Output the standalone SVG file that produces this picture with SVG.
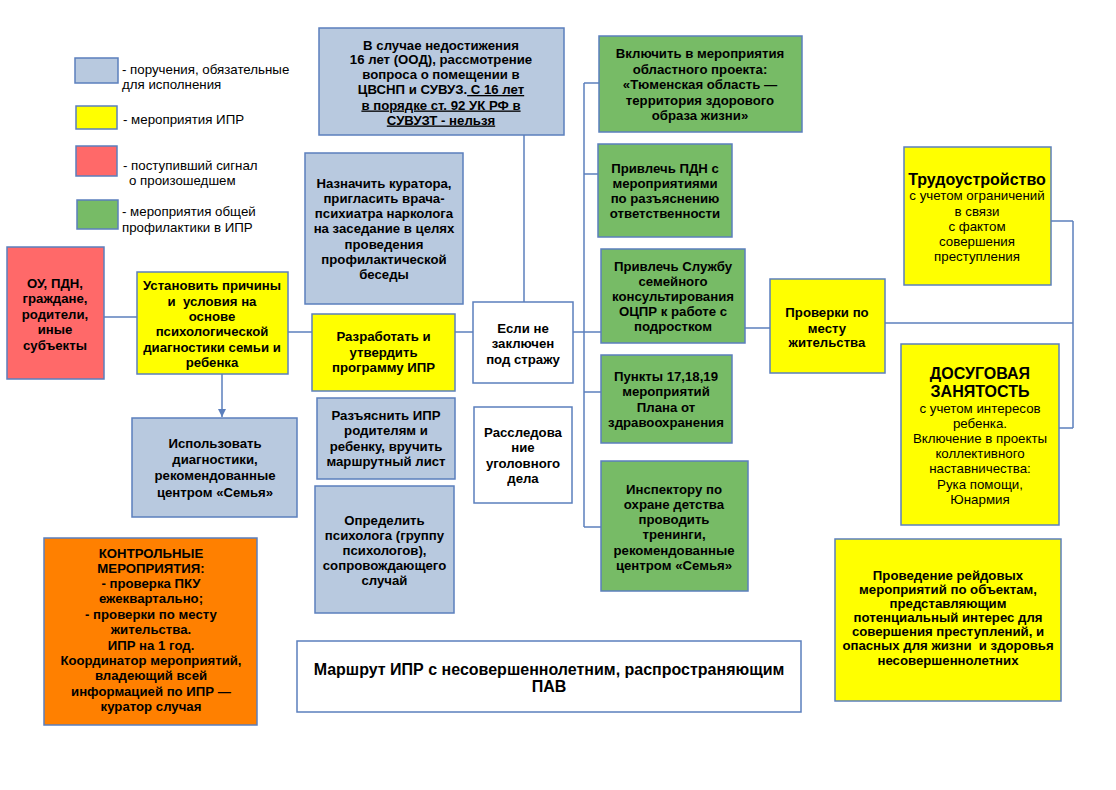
<svg xmlns="http://www.w3.org/2000/svg" width="1116" height="790" viewBox="0 0 1116 790">
<defs>
<style>
.box{stroke:#5b7fbd;stroke-width:1.5}
.blue{fill:#b8c9df}
.yel{fill:#ffff00}
.red{fill:#ff6969}
.grn{fill:#77bb66}
.org{fill:#ff8000}
.wht{fill:#ffffff}
.ln{stroke:#5b7fbd;stroke-width:1.5;fill:none}
text{font-family:"Liberation Sans",Arial,sans-serif;fill:#000}
.b{font-size:13.2px;font-weight:bold;text-anchor:middle}
.r{font-size:13.3px;text-anchor:middle}
.lg{font-size:13.3px}
.big{font-size:16px;font-weight:bold;text-anchor:middle}
.ttl{font-size:16px;font-weight:bold;text-anchor:middle}
</style>
<marker id="arr" viewBox="0 0 10 10" refX="10" refY="5" markerWidth="8" markerHeight="8" markerUnits="userSpaceOnUse" orient="auto">
<path d="M0,0 L10,5 L0,10 z" fill="#5b7fbd"/>
</marker>
</defs>
<rect width="1116" height="790" fill="#ffffff"/>

<g id="legend">
<rect class="box blue" x="75" y="58" width="43" height="25"/>
<text class="lg" x="122" y="73.5">- поручения, обязательные</text>
<text class="lg" x="122" y="88.5">для исполнения</text>
<rect class="box yel" x="76" y="106" width="41" height="23"/>
<text class="lg" x="123" y="123.5">- мероприятия ИПР</text>
<rect class="box red" x="76" y="146" width="41" height="30"/>
<text class="lg" x="123" y="170">- поступивший сигнал</text>
<text class="lg" x="129" y="184.5">о произошедшем</text>
<rect class="box grn" x="77" y="200" width="41" height="29"/>
<text class="lg" x="122" y="215.5">- мероприятия общей</text>
<text class="lg" x="122" y="231.5">профилактики в ИПР</text>
</g>

<g id="connectors">
<line class="ln" x1="104" y1="317" x2="137" y2="317"/>
<line class="ln" x1="288" y1="332" x2="312" y2="332"/>
<line class="ln" x1="222" y1="374" x2="222" y2="417" marker-end="url(#arr)"/>
<line class="ln" x1="455" y1="332" x2="473" y2="332"/>
<line class="ln" x1="524" y1="135" x2="524" y2="302"/>
<line class="ln" x1="573" y1="332" x2="584" y2="332"/>
<line class="ln" x1="584" y1="83" x2="584" y2="527"/>
<line class="ln" x1="584" y1="83" x2="599" y2="83"/>
<line class="ln" x1="584" y1="174" x2="598" y2="174"/>
<line class="ln" x1="584" y1="332" x2="601" y2="332"/>
<line class="ln" x1="584" y1="392" x2="601" y2="392"/>
<line class="ln" x1="584" y1="527" x2="601" y2="527"/>
<line class="ln" x1="745" y1="328" x2="770" y2="328"/>
<line class="ln" x1="885" y1="323" x2="1073" y2="323"/>
<line class="ln" x1="1073" y1="221" x2="1073" y2="428"/>
<line class="ln" x1="1051" y1="221" x2="1073" y2="221"/>
<line class="ln" x1="1059" y1="428" x2="1073" y2="428"/>
</g>

<g id="n-signal">
<rect class="box red" x="7" y="247" width="97" height="132"/>
<text class="b" x="55" y="287.5">ОУ, ПДН,</text>
<text class="b" x="55" y="303">граждане,</text>
<text class="b" x="55" y="318.5">родители,</text>
<text class="b" x="55" y="334">иные</text>
<text class="b" x="55" y="349.5">субъекты</text>
</g>

<g id="n-reasons">
<rect class="box yel" x="137" y="272" width="151" height="102"/>
<text class="b" x="212" y="290">Установить причины</text>
<text class="b" x="212" y="306" xml:space="preserve">и  условия на</text>
<text class="b" x="212" y="321">основе</text>
<text class="b" x="212" y="336">психологической</text>
<text class="b" x="212" y="351.5">диагностики семьи и</text>
<text class="b" x="212" y="367">ребенка</text>
</g>

<g id="n-diag">
<rect class="box blue" x="132" y="418" width="165" height="99"/>
<text class="b" x="215" y="447.5">Использовать</text>
<text class="b" x="215" y="463.5">диагностики,</text>
<text class="b" x="215" y="480">рекомендованные</text>
<text class="b" x="215" y="496.5">центром «Семья»</text>
</g>

<g id="n-under16">
<rect class="box blue" x="319" y="28" width="245" height="107"/>
<text class="b" x="441" y="49.5">В случае недостижения</text>
<text class="b" x="441" y="64">16 лет (ООД), рассмотрение</text>
<text class="b" x="441" y="79">вопроса о помещении в</text>
<text class="b" x="441" y="94">ЦВСНП и СУВУЗ.<tspan text-decoration="underline"> С 16 лет </tspan></text>
<text class="b" x="441" y="109.5" text-decoration="underline">в порядке ст. 92 УК РФ в</text>
<text class="b" x="441" y="124.5" text-decoration="underline">СУВУЗТ - нельзя</text>
</g>

<g id="n-curator">
<rect class="box blue" x="305" y="153" width="158" height="151"/>
<text class="b" x="384" y="187.5">Назначить куратора,</text>
<text class="b" x="384" y="202.8">пригласить врача-</text>
<text class="b" x="384" y="218.1">психиатра нарколога</text>
<text class="b" x="384" y="233.4">на заседание в целях</text>
<text class="b" x="384" y="248.7">проведения</text>
<text class="b" x="384" y="264">профилактической</text>
<text class="b" x="384" y="279.3">беседы</text>
</g>

<g id="n-notjailed">
<rect class="box wht" x="473" y="302" width="100" height="81"/>
<text class="b" x="523" y="332.5">Если не</text>
<text class="b" x="523" y="347.5">заключен</text>
<text class="b" x="523" y="363.5">под стражу</text>
</g>

<g id="n-develop">
<rect class="box yel" x="312" y="314" width="143" height="77"/>
<text class="b" x="383.5" y="341">Разработать и</text>
<text class="b" x="383.5" y="356.5">утвердить</text>
<text class="b" x="383.5" y="372">программу ИПР</text>
</g>

<g id="n-explain">
<rect class="box blue" x="317" y="398" width="138" height="81"/>
<text class="b" x="386" y="419.5">Разъяснить ИПР</text>
<text class="b" x="386" y="435">родителям и</text>
<text class="b" x="386" y="450.5">ребенку, вручить</text>
<text class="b" x="386" y="466">маршрутный лист</text>
</g>

<g id="n-psych">
<rect class="box blue" x="315" y="486" width="139" height="127"/>
<text class="b" x="384.5" y="524.5">Определить</text>
<text class="b" x="384.5" y="539.5">психолога (группу</text>
<text class="b" x="384.5" y="554.5">психологов),</text>
<text class="b" x="384.5" y="569.5">сопровождающего</text>
<text class="b" x="384.5" y="584.5">случай</text>
</g>

<g id="n-investigation">
<rect class="box wht" x="474" y="407" width="98" height="96"/>
<text class="b" x="523" y="437">Расследова</text>
<text class="b" x="523" y="452">ние</text>
<text class="b" x="523" y="467.5">уголовного</text>
<text class="b" x="523" y="483">дела</text>
</g>

<g id="n-project">
<rect class="box grn" x="599" y="36" width="203" height="96"/>
<text class="b" x="700" y="57.5">Включить в мероприятия</text>
<text class="b" x="700" y="73.5">областного проекта:</text>
<text class="b" x="700" y="88.5">«Тюменская область —</text>
<text class="b" x="700" y="104.5">территория здорового</text>
<text class="b" x="700" y="120">образа жизни»</text>
</g>

<g id="n-pdn">
<rect class="box grn" x="598" y="144" width="134" height="93"/>
<text class="b" x="665" y="172.5">Привлечь ПДН с</text>
<text class="b" x="665" y="188">мероприятиями</text>
<text class="b" x="665" y="203">по разъяснению</text>
<text class="b" x="665" y="218">ответственности</text>
</g>

<g id="n-service">
<rect class="box grn" x="601" y="249" width="144" height="94"/>
<text class="b" x="673" y="270.5">Привлечь Службу</text>
<text class="b" x="673" y="286">семейного</text>
<text class="b" x="673" y="301">консультирования</text>
<text class="b" x="673" y="316">ОЦПР к работе с</text>
<text class="b" x="673" y="331">подростком</text>
</g>

<g id="n-checks">
<rect class="box yel" x="770" y="279" width="115" height="94"/>
<text class="b" x="827" y="317">Проверки по</text>
<text class="b" x="827" y="332.5">месту</text>
<text class="b" x="827" y="347">жительства</text>
</g>

<g id="n-job">
<rect class="box yel" x="904" y="147" width="147" height="138"/>
<text class="big" x="977" y="184.5">Трудоустройство</text>
<text class="r" x="977" y="200">с учетом ограничений</text>
<text class="r" x="977" y="215.5">в связи</text>
<text class="r" x="977" y="230.5">с фактом</text>
<text class="r" x="977" y="246">совершения</text>
<text class="r" x="977" y="261">преступления</text>
</g>

<g id="n-leisure">
<rect class="box yel" x="901" y="344" width="158" height="181"/>
<text class="big" x="980" y="379">ДОСУГОВАЯ</text>
<text class="big" x="980" y="397">ЗАНЯТОСТЬ</text>
<text class="r" x="980" y="412.5">с учетом интересов</text>
<text class="r" x="980" y="427.5">ребенка.</text>
<text class="r" x="980" y="442.5">Включение в проекты</text>
<text class="r" x="980" y="457.5">коллективного</text>
<text class="r" x="980" y="473">наставничества:</text>
<text class="r" x="980" y="488.5">Рука помощи,</text>
<text class="r" x="980" y="503.5">Юнармия</text>
</g>

<g id="n-health">
<rect class="box grn" x="601" y="355" width="131" height="88"/>
<text class="b" x="666" y="381">Пункты 17,18,19</text>
<text class="b" x="666" y="396">мероприятий</text>
<text class="b" x="666" y="411.5">Плана от</text>
<text class="b" x="666" y="427">здравоохранения</text>
</g>

<g id="n-inspector">
<rect class="box grn" x="601" y="461" width="147" height="130"/>
<text class="b" x="674" y="493.5">Инспектору по</text>
<text class="b" x="674" y="508.5">охране детства</text>
<text class="b" x="674" y="524">проводить</text>
<text class="b" x="674" y="539">тренинги,</text>
<text class="b" x="674" y="554.5">рекомендованные</text>
<text class="b" x="674" y="569.5">центром «Семья»</text>
</g>

<g id="n-raids">
<rect class="box yel" x="835" y="539" width="226" height="162"/>
<text class="b" x="948" y="579.5">Проведение рейдовых</text>
<text class="b" x="948" y="593.5">мероприятий по объектам,</text>
<text class="b" x="948" y="607.5">представляющим</text>
<text class="b" x="948" y="621.5">потенциальный интерес для</text>
<text class="b" x="948" y="635.5">совершения преступлений, и</text>
<text class="b" x="948" y="649.5" xml:space="preserve">опасных для жизни  и здоровья</text>
<text class="b" x="948" y="664.5">несовершеннолетних</text>
</g>

<g id="n-control">
<rect class="box org" x="44" y="538" width="213" height="187"/>
<text class="b" x="151" y="557.5">КОНТРОЛЬНЫЕ</text>
<text class="b" x="151" y="572.5">МЕРОПРИЯТИЯ:</text>
<text class="b" x="151" y="587.5">- проверка ПКУ</text>
<text class="b" x="151" y="603">ежеквартально;</text>
<text class="b" x="151" y="618.5">- проверки по месту</text>
<text class="b" x="151" y="634">жительства.</text>
<text class="b" x="151" y="649.5">ИПР на 1 год.</text>
<text class="b" x="151" y="665">Координатор мероприятий,</text>
<text class="b" x="151" y="680">владеющий всей</text>
<text class="b" x="151" y="695.5">информацией по ИПР —</text>
<text class="b" x="151" y="711">куратор случая</text>
</g>

<g id="n-title">
<rect class="box wht" x="297" y="641" width="504" height="71"/>
<text class="ttl" x="549" y="675">Маршрут ИПР с несовершеннолетним, распространяющим</text>
<text class="ttl" x="549" y="692">ПАВ</text>
</g>
</svg>
